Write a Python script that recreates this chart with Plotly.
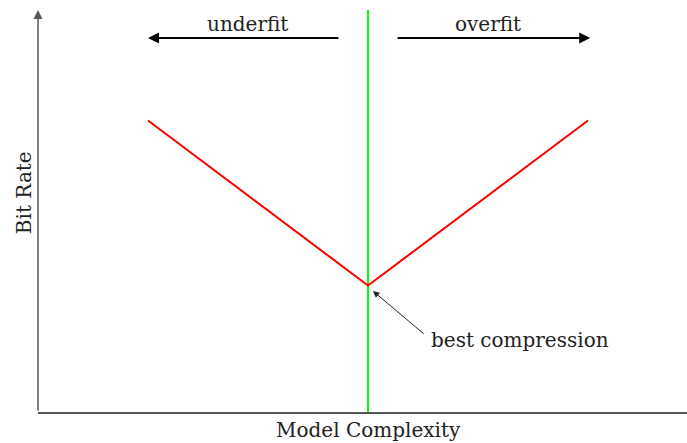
import plotly.graph_objects as go

# data (model complexity vs bit rate)
complexity = [2, 6, 10]
bit_rate = [5.3, 2.3, 5.3]
best_x = [6, 6]
best_y = [0, 7.31]

X_MAX = 11.8
Y_MAX = 7.31
FONT = "DejaVu Serif"
FS = 20

fig = go.Figure()
fig.add_trace(go.Scatter(x=best_x, y=best_y, mode="lines",
                         line=dict(color="#00ff00", width=2), cliponaxis=False,
                         hoverinfo="skip"))
fig.add_trace(go.Scatter(x=complexity, y=bit_rate, mode="lines",
                         line=dict(color="#ff0000", width=2), cliponaxis=False,
                         hoverinfo="skip"))

anns = []
# y-axis arrow
anns.append(dict(x=0, y=Y_MAX, ax=0, ay=0, xref="x", yref="y", axref="x", ayref="y",
                 showarrow=True, arrowhead=2, arrowsize=1.2, arrowwidth=1.5,
                 arrowcolor="#555555", text=""))
# underfit / overfit arrows
anns.append(dict(x=2.0, y=6.8, ax=5.49, ay=6.8, xref="x", yref="y", axref="x", ayref="y",
                 showarrow=True, arrowhead=2, arrowsize=1.1, arrowwidth=2,
                 arrowcolor="black", text=""))
anns.append(dict(x=10.04, y=6.8, ax=6.51, ay=6.8, xref="x", yref="y", axref="x", ayref="y",
                 showarrow=True, arrowhead=2, arrowsize=1.1, arrowwidth=2,
                 arrowcolor="black", text=""))
anns.append(dict(x=3.8, y=6.8, xref="x", yref="y", text="underfit", showarrow=False,
                 yanchor="bottom", yshift=0, font=dict(family=FONT, size=FS, color="#222")))
anns.append(dict(x=8.18, y=6.8, xref="x", yref="y", text="overfit", showarrow=False,
                 yanchor="bottom", yshift=0, font=dict(family=FONT, size=FS, color="#222")))
# best compression annotation
anns.append(dict(x=6.09, y=2.2, ax=7.04, ay=1.4, xref="x", yref="y", axref="x", ayref="y",
                 showarrow=True, arrowhead=2, arrowsize=1.3, arrowwidth=1,
                 arrowcolor="#222", text=""))
anns.append(dict(x=7.1, y=1.31, xref="x", yref="y", text="best compression",
                 showarrow=False, xanchor="left", yanchor="middle",
                 font=dict(family=FONT, size=FS, color="#222")))
# axis titles
anns.append(dict(x=6, y=0, xref="x", yref="y", text="Model Complexity", showarrow=False,
                 xanchor="center", yanchor="top", yshift=-4,
                 font=dict(family=FONT, size=FS, color="#222")))
anns.append(dict(x=0, y=3.98, xref="x", yref="y", text="Bit Rate", showarrow=False,
                 textangle=-90, xanchor="right", yanchor="middle", xshift=0,
                 font=dict(family=FONT, size=FS, color="#222")))

fig.update_layout(
    width=687, height=443,
    margin=dict(l=38, r=0, t=10, b=31, autoexpand=False),
    paper_bgcolor="white", plot_bgcolor="white",
    showlegend=False,
    annotations=anns,
    xaxis=dict(range=[0, X_MAX], showgrid=False, zeroline=False, showticklabels=False,
               ticks="", showline=True, linecolor="#555555", linewidth=1.5,
               fixedrange=True),
    yaxis=dict(range=[0, Y_MAX], showgrid=False, zeroline=False, showticklabels=False,
               ticks="", showline=False, fixedrange=True),
)

fig.write_html("out.html", config={"displayModeBar": False},
               post_script="document.body.style.margin='0';document.body.style.overflow='hidden';")
